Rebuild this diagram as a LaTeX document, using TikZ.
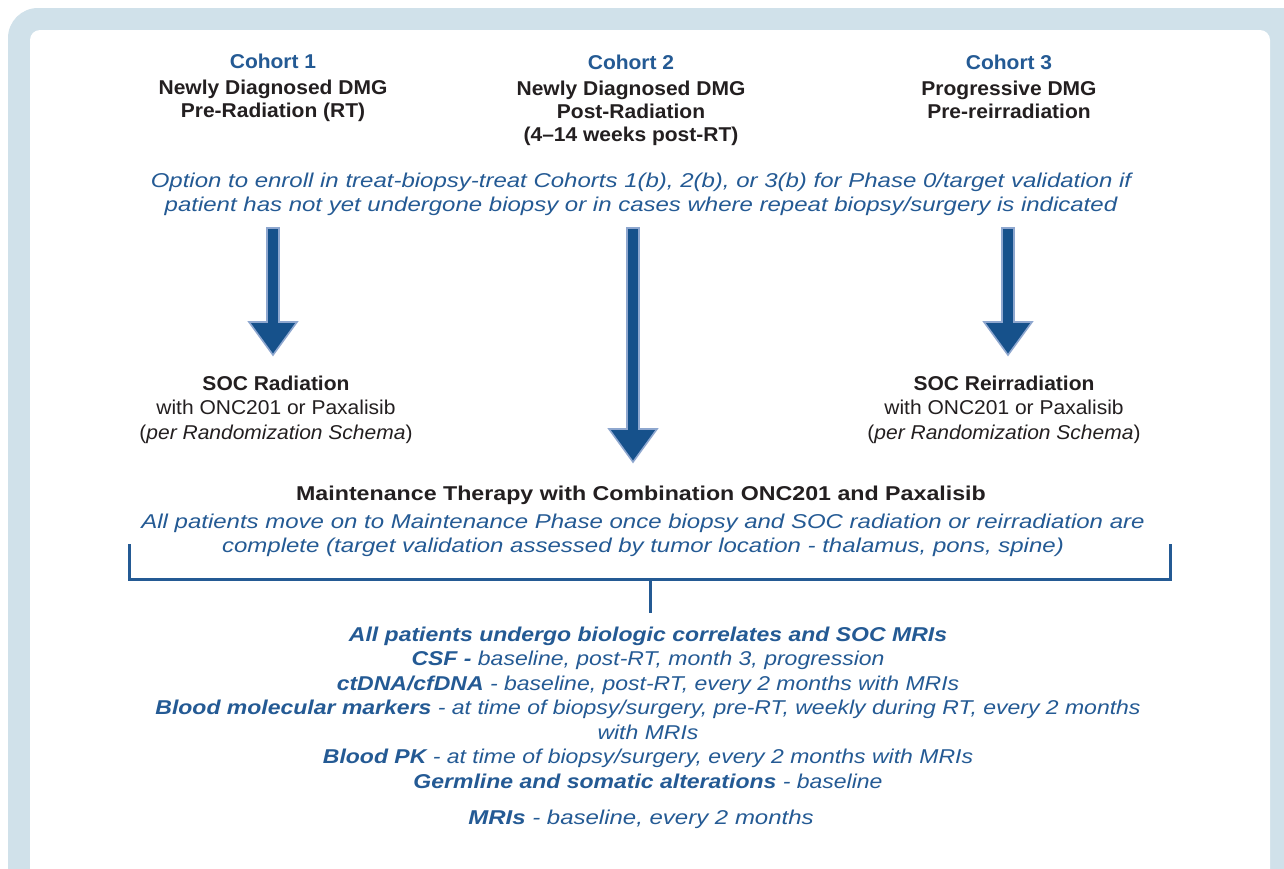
\documentclass[tikz,border=0pt]{standalone}
\usepackage{fontspec}
\setmainfont{Liberation Sans}
\newfontfamily\cohortfont{Liberation Sans}[FakeStretch=1.05]
\newfontfamily\notefont{Liberation Sans}[FakeStretch=1.2]
\newfontfamily\corrfont{Liberation Sans}[FakeStretch=1.15]
\newfontfamily\maintfont{Liberation Sans}[FakeStretch=1.16]
\usetikzlibrary{calc}
\definecolor{framebg}{HTML}{D0E1EA}
\definecolor{txtblue}{HTML}{245A94}
\definecolor{txtdark}{HTML}{231F20}
\definecolor{arrowfill}{HTML}{16518B}
\definecolor{arrowedge}{HTML}{8EA7CF}
\newcommand{\blockarrow}[2]{%
  \path[fill=arrowfill,draw=arrowedge,line width=0.8pt,line join=miter]
    ($(#1)+(-6,0)$) -- ($(#2)+(-6,-33)$) -- ($(#2)+(-24,-33)$) -- (#2)
    -- ($(#2)+(24,-33)$) -- ($(#2)+(6,-33)$) -- ($(#1)+(6,0)$) -- cycle;}
\begin{document}
\begin{tikzpicture}[x=0.5pt,y=-0.5pt]
\tikzstyle{cohort}=[align=center,inner sep=0pt,text=txtdark,font=\cohortfont\bfseries\fontsize{10}{11.5}\selectfont]
\tikzstyle{note}=[align=center,inner sep=0pt,text=txtblue,font=\notefont\itshape\fontsize{10}{12.25}\selectfont]
\tikzstyle{soc}=[align=center,inner sep=0pt,text=txtdark,font=\cohortfont\fontsize{10}{12.25}\selectfont]
\tikzstyle{bracket}=[draw=txtblue,line width=1.5pt]
\useasboundingbox (0,0) rectangle (1284,868);
\clip (0,0) rectangle (1284,868);
\fill[white] (0,0) rectangle (1284,868);
\fill[framebg,rounded corners=15pt] (8,8) rectangle (1330,920);
\fill[white,rounded corners=5pt] (30,30) rectangle (1270,920);
\node [cohort] (c1) at (273,88) {\textcolor{txtblue}{Cohort 1}\\[1.5pt]Newly Diagnosed DMG\\Pre-Radiation (RT)};
\node [cohort] (c2) at (631,100) {\textcolor{txtblue}{Cohort 2}\\[1.5pt]Newly Diagnosed DMG\\Post-Radiation\\(4–14 weeks post-RT)};
\node [cohort] (c3) at (1009,87) {\textcolor{txtblue}{Cohort 3}\\[1.5pt]Progressive DMG\\Pre-reirradiation};
\node [note] (opt) at (641,194.5) {Option to enroll in treat-biopsy-treat Cohorts 1(b), 2(b), or 3(b) for Phase 0/target validation if\\patient has not yet undergone biopsy or in cases where repeat biopsy/surgery is indicated};
\node [soc] (soc1) at (276,409.5) {\textbf{SOC Radiation}\\with ONC201 or Paxalisib\\(\textit{per Randomization Schema})};
\node [soc] (soc3) at (1004,409.5) {\textbf{SOC Reirradiation}\\with ONC201 or Paxalisib\\(\textit{per Randomization Schema})};
\node [soc,font=\maintfont\bfseries\fontsize{10}{12.25}\selectfont] (maint) at (641,495) {Maintenance Therapy with Combination ONC201 and Paxalisib};
\node [note] (mnote) at (643,535.5) {All patients move on to Maintenance Phase once biopsy and SOC radiation or reirradiation are\\complete (target validation assessed by tumor location - thalamus, pons, spine)};
\node [note,font=\corrfont\itshape\fontsize{10}{12.25}\selectfont] (corr) at (648,707.5) {\textbf{All patients undergo biologic correlates and SOC MRIs}\\\textbf{CSF -} baseline, post-RT, month 3, progression\\\textbf{ctDNA/cfDNA} - baseline, post-RT, every 2 months with MRIs\\\textbf{Blood molecular markers} - at time of biopsy/surgery, pre-RT, weekly during RT, every 2 months\\with MRIs\\\textbf{Blood PK} - at time of biopsy/surgery, every 2 months with MRIs\\\textbf{Germline and somatic alterations} - baseline};
\node [note] (mri) at (641,819) {\textbf{MRIs} - baseline, every 2 months};
\coordinate (a1top) at (273,228);
\coordinate (a1tip) at (273,355);
\coordinate (a2top) at (633,228);
\coordinate (a2tip) at (633,462);
\coordinate (a3top) at (1008,228);
\coordinate (a3tip) at (1008,355);
\blockarrow{a1top}{a1tip}
\blockarrow{a2top}{a2tip}
\blockarrow{a3top}{a3tip}
\coordinate (bl) at (129,544);
\coordinate (br) at (1170,544);
\coordinate (bmid) at (650,579);
\coordinate (stem) at (650,613);
\draw [bracket] (bl) |- (bmid) -| (br);
\draw [bracket] (bmid) -- (stem);
\end{tikzpicture}
\end{document}
